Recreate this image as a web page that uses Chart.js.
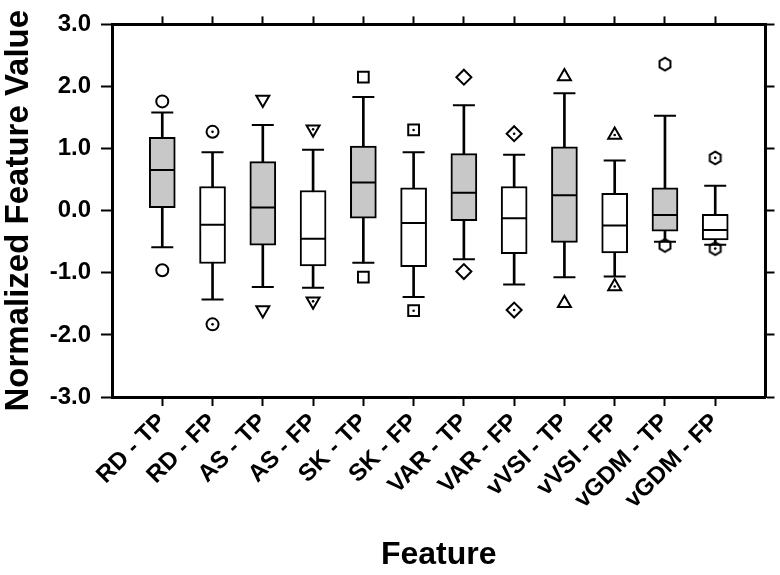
<!DOCTYPE html>
<html>
<head>
<meta charset="utf-8">
<script src="https://cdn.jsdelivr.net/npm/chart.js@4.4.0/dist/chart.umd.min.js"></script>
<style>
  html, body { margin: 0; padding: 0; background: #fff; }
  #wrap { width: 780px; height: 575px; }
</style>
</head>
<body>
<div id="wrap"><canvas id="chart" width="780" height="575"></canvas></div>
<script>
// Box plot values
var categories  = ['RD - TP', 'RD - FP', 'AS - TP', 'AS - FP', 'SK - TP', 'SK - FP',
                   'VAR - TP', 'VAR - FP', 'vVSI - TP', 'vVSI - FP', 'vGDM - TP', 'vGDM - FP'];
var outlierHigh = [1.76, 1.27, 1.79, 1.31, 2.15, 1.30, 2.15, 1.24, 2.16, 1.22, 2.36, 0.85];
var whiskerHigh = [1.58, 0.94, 1.38, 0.98, 1.83, 0.94, 1.70, 0.90, 1.89, 0.81, 1.53, 0.40];
var q3          = [1.18, 0.39, 0.79, 0.325, 1.04, 0.37, 0.92, 0.39, 1.03, 0.28, 0.37, -0.06];
var median      = [0.655, -0.225, 0.05, -0.45, 0.456, -0.20, 0.29, -0.12, 0.25, -0.24, -0.07, -0.31];
var q1          = [0.05, -0.85, -0.555, -0.89, -0.12, -0.90, -0.16, -0.69, -0.51, -0.68, -0.33, -0.47];
var whiskerLow  = [-0.59, -1.43, -1.23, -1.24, -0.84, -1.39, -0.78, -1.19, -1.07, -1.06, -0.50, -0.55];
var outlierLow  = [-0.96, -1.83, -1.60, -1.46, -1.07, -1.61, -0.98, -1.60, -1.49, -1.22, -0.56, -0.61];
var yTicks      = [-3, -2, -1, 0, 1, 2, 3];

var FONT = 'Liberation Sans, Arial, Helvetica, sans-serif';
var xs = categories.map(function(c, i){ return i + 1; });

// hexagon marker (no built-in style for it)
function hexagon(){
    var c = document.createElement('canvas');
    c.width = 18; c.height = 18;
    var ctx = c.getContext('2d');
    ctx.beginPath();
    for (var k = 0; k < 6; k++) {
        var a = Math.PI / 3 * k - Math.PI / 2;
        var px = 9 + 6.3 * Math.cos(a), py = 9 + 6.3 * Math.sin(a);
        if (k == 0) ctx.moveTo(px, py); else ctx.lineTo(px, py);
    }
    ctx.closePath();
    ctx.lineWidth = 2;
    ctx.strokeStyle = '#000';
    ctx.stroke();
    return c;
}
var hex = hexagon();

var markerStyle = ['circle', 'circle', 'triangle', 'triangle', 'rect', 'rect',
                   'rectRot', 'rectRot', 'triangle', 'triangle', hex, hex];
var markerRot   = [0, 0, 180, 180, 0, 0, 0, 0, 0, 0, 0, 0];
var markerSize  = [6, 6, 7.5, 7.5, 7.6, 7.6, 7.5, 7.5, 7.5, 7.5, 7, 7];
var boxFill     = categories.map(function(c){ return /TP$/.test(c) ? '#c8c8c8' : '#ffffff'; });

function points(arr){
    return arr.map(function(v, i){ return { x: xs[i], y: v }; });
}
function ranges(lo, hi){
    return lo.map(function(v, i){ return { x: xs[i], y: [v, hi[i]] }; });
}

// small dot inside the FP markers
var dots = [];
categories.forEach(function(c, i){
    if (/FP$/.test(c)) {
        dots.push({ x: xs[i], y: outlierHigh[i] });
        dots.push({ x: xs[i], y: outlierLow[i] });
    }
});

function marker(data){
    return {
        type: 'scatter',
        data: data,
        pointStyle: markerStyle,
        pointRotation: markerRot,
        pointRadius: markerSize,
        pointBorderWidth: 2,
        pointBorderColor: '#000',
        pointBackgroundColor: 'rgba(0,0,0,0)'
    };
}

var tickFont = { family: FONT, weight: 'bold', size: 24 };

new Chart(document.getElementById('chart').getContext('2d'), {
    type: 'bar',
    data: {
        datasets: [
            { type: 'scatter', data: dots, pointRadius: 1.3, pointBorderWidth: 0,
              pointBackgroundColor: '#000' },
            marker(points(outlierHigh)),
            marker(points(outlierLow)),
            { type: 'scatter', data: points(whiskerHigh).concat(points(whiskerLow)),
              pointStyle: 'line', pointRadius: 11, pointBorderWidth: 2, pointBorderColor: '#000' },
            { type: 'scatter', data: points(median),
              pointStyle: 'line', pointRadius: 12.5, pointBorderWidth: 2, pointBorderColor: '#000' },
            { type: 'bar', data: ranges(q1, q3), backgroundColor: boxFill, borderColor: '#000',
              borderWidth: 2, borderSkipped: false, barThickness: 26, grouped: false },
            { type: 'bar', data: ranges(whiskerLow, whiskerHigh), backgroundColor: '#000',
              borderWidth: 0, barThickness: 2, grouped: false }
        ]
    },
    options: {
        responsive: false,
        animation: false,
        layout: { padding: 0 },
        plugins: { legend: { display: false }, tooltip: { enabled: false } },
        scales: {
            x: {
                type: 'linear', position: 'bottom', min: 0, max: 13, offset: false,
                afterBuildTicks: function(s){ s.ticks = xs.map(function(v){ return { value: v }; }); },
                afterFit: function(s){ s.height = 178; },
                ticks: {
                    autoSkip: false, minRotation: 45, maxRotation: 45, padding: 2,
                    color: '#000', font: tickFont,
                    callback: function(v){ return categories[v - 1]; }
                },
                grid: { offset: false, drawOnChartArea: false, tickLength: 9, tickWidth: 2,
                        tickColor: '#000', color: '#000' },
                border: { color: '#000', width: 3 },
                title: { display: true, text: 'Feature', color: '#000',
                         font: { family: FONT, weight: 'bold', size: 32, lineHeight: 1 },
                         padding: { top: 0, bottom: 4 } }
            },
            x2: {
                type: 'linear', position: 'top', min: 0, max: 13, offset: false,
                afterBuildTicks: function(s){ s.ticks = xs.map(function(v){ return { value: v }; }); },
                afterFit: function(s){ s.height = 15; },
                ticks: { display: false },
                grid: { offset: false, drawOnChartArea: false, tickLength: 8, tickWidth: 2,
                        tickColor: '#000', color: '#000' },
                border: { color: '#000', width: 3 }
            },
            y: {
                type: 'linear', position: 'left', min: -3, max: 3,
                afterBuildTicks: function(s){ s.ticks = yTicks.map(function(v){ return { value: v }; }); },
                afterFit: function(s){ s.width = 112; },
                ticks: { padding: 10, color: '#000', font: { family: FONT, weight: 'bold', size: 24 },
                         callback: function(v){ return v.toFixed(1); } },
                grid: { drawOnChartArea: false, tickLength: 11, tickWidth: 2, tickColor: '#000', color: '#000' },
                border: { color: '#000', width: 3 },
                title: { display: true, text: 'Normalized Feature Value', color: '#000',
                         font: { family: FONT, weight: 'bold', size: 33, lineHeight: 1 },
                         padding: { top: 2, bottom: 0 } }
            },
            y2: {
                type: 'linear', position: 'right', min: -3, max: 3,
                afterBuildTicks: function(s){ s.ticks = yTicks.map(function(v){ return { value: v }; }); },
                afterFit: function(s){ s.width = 9; },
                ticks: { display: false },
                grid: { drawOnChartArea: false, tickLength: 9, tickWidth: 2, tickColor: '#000', color: '#000' },
                border: { color: '#000', width: 3 }
            }
        }
    }
});
</script>
</body>
</html>
